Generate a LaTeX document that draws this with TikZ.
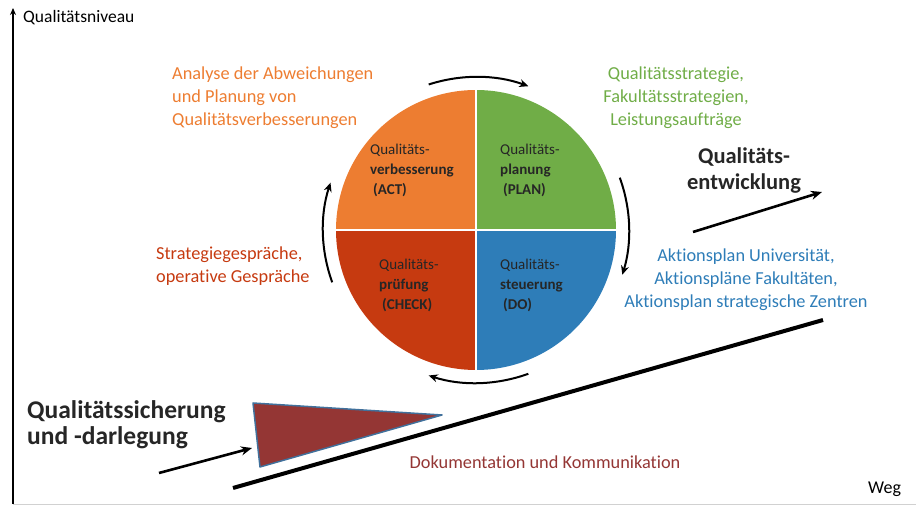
\documentclass[tikz,border=0pt]{standalone}
\usepackage{fontspec}
\setmainfont{Carlito}[Ligatures=NoCommon]
\usetikzlibrary{arrows.meta,positioning}

\definecolor{actorange}{HTML}{ED7D31}
\definecolor{plangreen}{HTML}{70AD47}
\definecolor{checkred}{HTML}{C63A10}
\definecolor{doblue}{HTML}{2E7DB8}
\definecolor{dokured}{HTML}{943634}
\definecolor{edgeblue}{HTML}{41719C}
\definecolor{qtext}{HTML}{262626}

\begin{document}
\begin{tikzpicture}[x=1pt,y=1pt,
    quadtext/.style={align=left, anchor=north west, inner sep=0pt, text=qtext,
        font=\fontsize{15}{20}\selectfont},
    sidetext/.style={inner sep=0pt, font=\fontsize{18.3}{23}\selectfont},
    headtext/.style={inner sep=0pt, text=qtext, font=\fontsize{22.5}{25.5}\selectfont\bfseries},
    axislabel/.style={inner sep=0pt, anchor=west, font=\fontsize{17.5}{20}\selectfont},
    cyclearrow/.style={line width=2pt, -{Stealth[length=9pt,width=8pt]}},
    bigarrow/.style={line width=2.6pt, -{Stealth[length=11pt,width=9pt]}}
    ]
    \useasboundingbox (0,0) rectangle (916,506);

    % axes
    \coordinate (origin) at (13,2);
    \coordinate (ytop) at (13,498);
    \coordinate (xend) at (916,2);
    \draw[black!18, line width=0.8pt] (origin) -- (xend);
    \draw[line width=1.5pt, -{Stealth[length=7pt,width=6pt]}] (origin) -- (ytop);
    \node[axislabel] (niveau) at (23,488) {Qualitätsniveau};
    \node[axislabel, font=\fontsize{18}{20}\selectfont] (weg) at (868,17) {Weg};

    % PDCA circle
    \coordinate (c) at (476,276);
    \foreach \col/\ang in {plangreen/0, actorange/90, checkred/180, doblue/270} {
        \fill[\col] (c) -- ++(\ang:140) arc[start angle=\ang, delta angle=90, radius=140] -- cycle;
    }
    \draw[white, line width=2.5pt] ([xshift=-141pt]c) -- ([xshift=141pt]c);
    \draw[white, line width=2.5pt] ([yshift=-141pt]c) -- ([yshift=141pt]c);

    \node[quadtext] (act) at (370,362) {Qualitäts-\\\textbf{verbesserung}\\\hspace{3pt}\textbf{(ACT)}};
    \node[quadtext] (plan) at (500,362) {Qualitäts-\\\textbf{planung}\\\hspace{3pt}\textbf{(PLAN)}};
    \node[quadtext] (check) at (379,247) {Qualitäts-\\\textbf{prüfung}\\\hspace{3pt}\textbf{(CHECK)}};
    \node[quadtext] (do) at (500,247) {Qualitäts-\\\textbf{steuerung}\\\hspace{3pt}\textbf{(DO)}};

    % cycle arrows round the circle
    \foreach \from/\to in {108/70, 20/-17, -70/-108, 200/162} {
        \draw[cyclearrow] ([shift={(\from:153)}]c) arc[start angle=\from, end angle=\to, radius=153];
    }

    % side texts
    \node[sidetext, text=actorange, align=left, anchor=north west] (analyse) at (172,439)
        {Analyse der Abweichungen\\und Planung von\\Qualitätsverbesserungen};
    \node[sidetext, text=plangreen, align=center, anchor=north] (strategie) at (676,439)
        {Qualitätsstrategie,\\Fakultätsstrategien,\\Leistungsaufträge};
    \node[sidetext, text=doblue, align=center, anchor=north] (aktion) at (746,257)
        {Aktionsplan Universität,\\Aktionspläne Fakultäten,\\Aktionsplan strategische Zentren};
    \node[sidetext, text=checkred, align=left, anchor=north west] (gespraech) at (156,259)
        {Strategiegespräche,\\operative Gespräche};
    \node[sidetext, text=dokured] (doku) at (545,44) {Dokumentation und Kommunikation};

    \node[headtext, align=center, anchor=north] (entwicklung) at (744,358) {Qualitäts-\\entwicklung};
    \node[headtext, align=left, anchor=north west, font=\fontsize{25.5}{26.5}\selectfont\bfseries]
        (sicherung) at (27,106) {Qualitätssicherung\\und -darlegung};

    % arrows and base line
    \coordinate (ent1) at (693,274);
    \coordinate (ent2) at (822,314);
    \draw[bigarrow] (ent1) -- (ent2);
    \coordinate (sich1) at (159,33);
    \coordinate (sich2) at (252,58);
    \draw[bigarrow] (sich1) -- (sich2);
    \coordinate (base1) at (233,18);
    \coordinate (base2) at (823,186);
    \draw[line width=4pt] (base1) -- (base2);

    % wedge
    \filldraw[fill=dokured, draw=edgeblue, line width=1.5pt, line join=round]
        (253,103) -- (442,91) -- (260,39) -- cycle;
\end{tikzpicture}
\end{document}
